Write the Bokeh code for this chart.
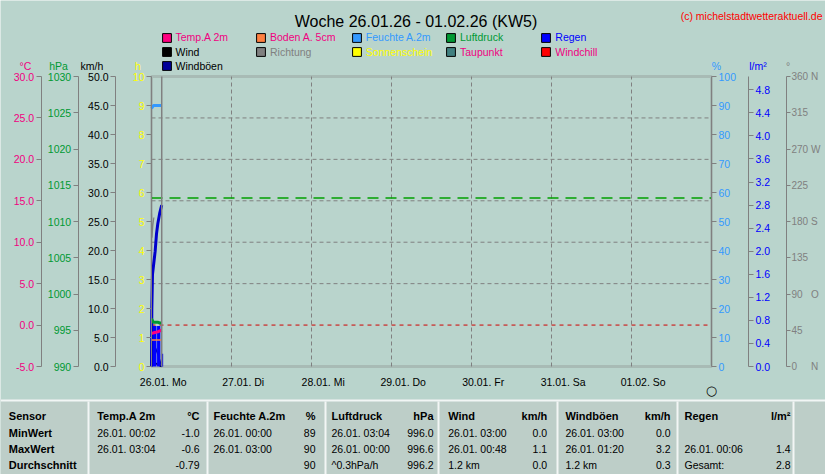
from bokeh.plotting import figure
from bokeh.models import (Range1d, LinearAxis, FixedTicker, PrintfTickFormatter,
                          Label, Legend, LegendItem, BoxAnnotation)
from bokeh.embed import file_html
from bokeh.resources import INLINE
from bokeh.core.properties import value

FONT = "Liberation Sans"
BG = "#B9D4CC"
TABLE_BG = "#BDCEC8"
GRAY = "#808080"
PINK = "#F00080"
GREEN = "#009933"
YELLOW = "#FFFF00"
LBLUE = "#3399FF"
BLUE = "#0000FF"
NAVY = "#000099"
NAN = float("nan")

# ---------------- data ----------------
title_text = "Woche 26.01.26 - 01.02.26 (KW5)"
copyright_text = "(c) michelstadtwetteraktuell.de"

day_labels = ["26.01. Mo", "27.01. Di", "28.01. Mi", "29.01. Do", "30.01. Fr", "31.01. Sa", "01.02. So"]
day_start_h = [0, 24, 48, 72, 96, 120, 144]
week_end_h = 168
now_h = 3.067

temp_t = [0.03, 0.5, 1.0, 1.5, 2.0, 2.5, 3.067]
temp_c = [-1.0, -0.95, -0.9, -0.85, -0.8, -0.7, -0.6]

soil_t = [0.0, 1.0, 2.0, 2.9]
soil_c = [-1.8, -1.8, -1.8, -1.8]

hum_t = [0.0, 0.3, 0.6, 1.0, 2.0, 3.0, 3.067]
hum_pct = [89, 89.5, 90, 90, 90, 90, 90]

press_t = [0.0, 0.3, 0.6, 1.0, 1.5, 2.0, 2.5, 3.067]
press_hpa = [996.6, 996.3, 996.1, 996.1, 996.1, 996.1, 996.0, 996.0]

rain_sum_t = [0.0, 0.1, 0.3, 0.7, 1.1, 1.5, 1.9, 2.5, 3.067]
rain_sum_mm = [0.0, 1.0, 1.6, 1.8, 2.0, 2.3, 2.48, 2.67, 2.8]

rain_rate_t = [0.0, 0.1667, 0.3333, 0.5, 0.6667, 0.8333, 1.0, 1.1667, 1.3333, 1.5,
               1.6667, 1.8333, 2.0, 2.1667, 2.3333, 2.5, 2.6667, 2.8333, 3.5]
rain_rate = [1.4, 1.4, 1.4, 1.4, 1.4, 1.4, 1.4, 1.4, 1.4, 0.0,
             1.4, 1.4, 1.4, 1.4, 1.4, 1.4, 0.0, 0.44, 0.44]

dir_t = [0.0, 0.15, 0.4, 0.7]
dir_deg = [190, 160, 175, 185]

wind_t = [0.0, 0.5, 0.8, 1.2, 2.0, 3.0]
wind_kmh = [0.4, 0.8, 1.1, 0.6, 0.3, 0.0]
gust_kmh = [1.5, 2.5, 2.8, 3.2, 2.0, 0.0]

# axis ticks / labels
tc_ticks = [-5, 0, 5, 10, 15, 20, 25, 30]
hpa_ticks = [990, 995, 1000, 1005, 1010, 1015, 1020, 1025, 1030]
kmh_ticks = [0, 5, 10, 15, 20, 25, 30, 35, 40, 45, 50]
h_ticks = [0, 1, 2, 3, 4, 5, 6, 7, 8, 9, 10]
pct_ticks = [0, 10, 20, 30, 40, 50, 60, 70, 80, 90, 100]
lm2_ticks = [0.0, 0.4, 0.8, 1.2, 1.6, 2.0, 2.4, 2.8, 3.2, 3.6, 4.0, 4.4, 4.8]
deg_ticks = [0, 45, 90, 135, 180, 225, 270, 315, 360]
NB = "\u00a0"
deg_labels = ["0" + NB * 5 + "N", "45", "90" + NB * 3 + "O", "135", "180" + NB + "S",
              "225", "270" + NB + "W", "315", "360" + NB + "N"]
grid_tc = [5, 10, 15, 20, 25]
freeze_c = [0]
std_press = [1013.25]

legend_names = [["Temp.A 2m", "Boden A. 5cm", "Feuchte A.2m", "Luftdruck", "Regen"],
                ["Wind", "Richtung", "Sonnenschein", "Taupunkt", "Windchill"],
                ["Windböen"]]
legend_swatch = [["#FF0080", "#FF8040", LBLUE, GREEN, BLUE],
                 ["#000000", GRAY, YELLOW, "#408080", "#FF0000"],
                 [NAVY]]
legend_text_col = [[PINK, PINK, LBLUE, GREEN, BLUE],
                   ["#000000", GRAY, YELLOW, PINK, PINK],
                   ["#000000"]]

unit_texts = ["°C", "hPa", "km/h", "h", "%", "l/m²", "°"]
unit_colors = [PINK, GREEN, "#000000", YELLOW, LBLUE, BLUE, GRAY]

# table
row_labels = ["Sensor", "MinWert", "MaxWert", "Durchschnitt"]
tab_headers = ["Temp.A 2m", "Feuchte A.2m", "Luftdruck", "Wind", "Windböen", "Regen"]
tab_units = ["°C", "%", "hPa", "km/h", "km/h", "l/m²"]
min_when = ["26.01.  00:02", "26.01.  00:00", "26.01.  03:04", "26.01.  03:00", "26.01.  03:00", ""]
min_val = ["-1.0", "89", "996.0", "0.0", "0.0", ""]
max_when = ["26.01.  03:04", "26.01.  03:00", "26.01.  00:00", "26.01.  00:48", "26.01.  01:20", "26.01.  00:06"]
max_val = ["-0.6", "90", "996.6", "1.1", "3.2", "1.4"]
avg_note = ["", "", "^0.3hPa/h", "1.2 km", "1.2 km", "Gesamt:"]
avg_val = ["-0.79", "90", "996.2", "0.0", "0.3", "2.8"]

# ---------------- layout (canvas pixels, from top-left) ----------------
W, H = 825, 474
CH_L, CH_R, CH_T, CH_B = 151, 711, 76, 366


def lin_range(v_lo, v_hi, px_lo, px_hi, total):
    s = (v_hi - v_lo) / (px_hi - px_lo)
    return Range1d(v_lo - px_lo * s, v_lo + (total - px_lo) * s)


def yr(v_lo, v_hi):
    return lin_range(v_lo, v_hi, H - CH_B, H - CH_T, H)


PX_PER_H = (CH_R - CH_L) / week_end_h


def hx(cx):
    return (cx - CH_L) / PX_PER_H


p = figure(width=W, height=H, x_range=lin_range(0, week_end_h, CH_L, CH_R, W), y_range=yr(0, 10),
           x_axis_location=None, y_axis_location=None,
           toolbar_location=None, output_backend="svg", min_border=0,
           background_fill_color=BG, border_fill_color=BG, outline_line_color=None)
p.xgrid.visible = False
p.ygrid.visible = False
p.extra_y_ranges = {"tc": yr(-5, 30), "hpa": yr(990, 1030), "kmh": yr(0, 50),
                    "pct": yr(0, 100), "lm2": yr(0, 5.03), "deg": yr(0, 360),
                    "py": Range1d(H, 0)}
p.extra_x_ranges = {"px": Range1d(0, W)}


def make_axis(rname, loc_px, side, color, ticks, bounds, fmt=None, size="10.5px", tick_out=5, standoff=2):
    kw = {} if rname is None else {"y_range_name": rname}
    ax = LinearAxis(fixed_location=hx(loc_px), bounds=bounds, **kw)
    ax.ticker = FixedTicker(ticks=ticks)
    if fmt:
        ax.formatter = PrintfTickFormatter(format=fmt)
    ax.axis_line_color = GRAY
    ax.major_tick_line_color = GRAY
    ax.minor_tick_line_color = None
    ax.major_tick_out = tick_out
    ax.major_tick_in = 0
    ax.major_label_standoff = standoff
    ax.major_label_text_color = color
    ax.major_label_text_font = FONT
    ax.major_label_text_font_size = size
    p.add_layout(ax, side)
    return ax


# chart frame + table background
p.add_layout(BoxAnnotation(left=0, right=week_end_h, bottom=0, top=10, fill_color=None,
                           line_color=GRAY, line_width=3, level="underlay"))
p.add_layout(BoxAnnotation(left=0, right=W, top=399, bottom=H, x_range_name="px", y_range_name="py",
                           fill_color=TABLE_BG, fill_alpha=1, line_color=None, level="underlay"))

make_axis(None, CH_L, "left", YELLOW, h_ticks, (0, 10))
make_axis("kmh", 115, "left", "#000000", kmh_ticks, (0, 50), "%.1f")
make_axis("hpa", 77.7, "left", GREEN, hpa_ticks, (990, 1030))
make_axis("tc", 40.7, "left", PINK, tc_ticks, (-5, 30), "%.1f")
make_axis("pct", CH_R, "right", LBLUE, pct_ticks, (0, 100))
make_axis("lm2", 748, "right", BLUE, lm2_ticks, (0, 5.03), "%.1f")
ax_deg = make_axis("deg", 786, "right", GRAY, deg_ticks, (0, 360), size="10px", tick_out=4, standoff=1)
ax_deg.major_label_overrides = {t: s for t, s in zip(deg_ticks, deg_labels)}

label_ticks = [d + 3.5 for d in day_start_h]
xa = LinearAxis(fixed_location=0, bounds=(0, week_end_h))
xa.ticker = FixedTicker(ticks=label_ticks)
xa.major_label_overrides = {t: s for t, s in zip(label_ticks, day_labels)}
xa.major_tick_out = 0
xa.major_tick_in = 0
xa.minor_tick_line_color = None
xa.axis_line_color = None
xa.major_label_standoff = 9
xa.major_label_text_font = FONT
xa.major_label_text_font_size = "10.5px"
xa.major_label_text_color = "#000000"
p.add_layout(xa, "below")

# grid lines
n_v = len(day_start_h) - 1
p.segment(x0=day_start_h[1:], x1=day_start_h[1:], y0=[0] * n_v, y1=[10] * n_v,
          line_color=GRAY, line_dash="4 3", line_width=1)
p.segment(x0=[0] * len(grid_tc), x1=[week_end_h] * len(grid_tc), y0=grid_tc, y1=grid_tc,
          y_range_name="tc", line_color=GRAY, line_dash="4 3", line_width=1)
p.segment(x0=[0], x1=[week_end_h], y0=freeze_c, y1=freeze_c, y_range_name="tc",
          line_color="#D00000", line_dash="4 4", line_width=1)
p.segment(x0=[0], x1=[week_end_h], y0=std_press, y1=std_press, y_range_name="hpa",
          line_color="#00A000", line_dash="11 7", line_width=1.5)

# data series
p.line(wind_t, wind_kmh, y_range_name="kmh", line_color="#000000", line_width=1.5)
p.line(wind_t, gust_kmh, y_range_name="kmh", line_color=NAVY, line_width=1.5)
p.varea_step(x=rain_rate_t, y1=0, y2=rain_rate, step_mode="after", fill_color=BLUE)
p.line(dir_t, dir_deg, y_range_name="deg", line_color=GRAY, line_width=1.2)
p.line(rain_sum_t, rain_sum_mm, y_range_name="lm2", line_color="#0000CC", line_width=3)
p.line(hum_t, hum_pct, y_range_name="pct", line_color=LBLUE, line_width=3)
p.line(press_t, press_hpa, y_range_name="hpa", line_color=GREEN, line_width=3)
p.line(temp_t, temp_c, y_range_name="tc", line_color="#FF0080", line_width=3)
p.line(soil_t, soil_c, y_range_name="tc", line_color="#FF8040", line_width=1.5)
p.segment(x0=[now_h], x1=[now_h], y0=[0], y1=[10], line_color=GRAY, line_width=1.5)

# legends (bottom-left corner in canvas px)
leg_cols_x = [160.5, 255.0, 350.8, 445.0, 540.3]
leg_rows_bottom = [43.0, 57.5, 71.5]
for r, (names, sw, tcol) in enumerate(zip(legend_names, legend_swatch, legend_text_col)):
    for c, (nm, s, col) in enumerate(zip(names, sw, tcol)):
        rr = p.vbar(x=[NAN], top=[NAN], width=1, fill_color=s, line_color="#000000", line_width=1)
        lg = Legend(items=[LegendItem(label=nm, renderers=[rr])],
                    location=(leg_cols_x[c], H - leg_rows_bottom[r]),
                    padding=0, margin=0, spacing=0,
                    glyph_width=11, glyph_height=11, label_height=11, label_width=10,
                    label_standoff=4, label_text_font=FONT, label_text_font_size="10.5px",
                    label_text_color=col, background_fill_alpha=0, border_line_color=None)
        p.add_layout(lg)


def add_label(cx, cy, text, color, size, align="center", baseline="alphabetic", font=FONT):
    p.add_layout(Label(x=cx, y=H - cy, x_units="screen", y_units="screen", text=text,
                       text_align=align, text_baseline=baseline, text_font=font,
                       text_font_size=size, text_color=color))


add_label(415.5, 20.7, title_text, "#000000", "16px")
add_label(822, 15.0, copyright_text, "#FF0000", "10.5px", align="right")
unit_x = [25, 58, 91.5, 137.5, 716, 757.5, 787.5]
for ux, ut, uc in zip(unit_x, unit_texts, unit_colors):
    add_label(ux, 65, ut, uc, "10.5px")
add_label(711, 390, "○", "#000000", "13px", baseline="middle", font="DejaVu Sans")

# ---------------- table ----------------
sep_x = [88, 207, 325, 438, 557, 677, 793]
col_left = [96.7, 213, 331, 447.7, 565, 684]
col_right = [199, 315, 433, 546.7, 670, 790]
row_y = [415.7, 432.3, 448.3, 464.3]

p.segment(x0=[0], y0=[400], x1=[W], y1=[400], x_range_name="px", y_range_name="py",
          line_color="#F2F6F5", line_width=2)
p.segment(x0=sep_x, y0=[401] * len(sep_x), x1=sep_x, y1=[H] * len(sep_x),
          x_range_name="px", y_range_name="py", line_color="#F2F6F5", line_width=2)

bx, by, bt, ba = [], [], [], []
for yy, lab in zip(row_y, row_labels):
    bx.append(8.3); by.append(yy); bt.append(lab); ba.append("left")
for i in range(6):
    bx.append(col_left[i]); by.append(row_y[0]); bt.append(tab_headers[i]); ba.append("left")
    bx.append(col_right[i]); by.append(row_y[0]); bt.append(tab_units[i]); ba.append("right")
p.text(x=bx, y=by, text=bt, text_align=ba, text_baseline="middle", text_font=value(FONT),
       text_font_size="11px", text_font_style="bold", text_color="#000000",
       x_range_name="px", y_range_name="py")

rx, ry, rt, ra = [], [], [], []
for i in range(6):
    for yy, left_txt, right_txt in zip(row_y[1:], [min_when[i], max_when[i], avg_note[i]],
                                       [min_val[i], max_val[i], avg_val[i]]):
        rx.append(col_left[i]); ry.append(yy); rt.append(left_txt); ra.append("left")
        rx.append(col_right[i]); ry.append(yy); rt.append(right_txt); ra.append("right")
p.text(x=rx, y=ry, text=rt, text_align=ra, text_baseline="middle", text_font=value(FONT),
       text_font_size="10.5px", text_color="#000000", x_range_name="px", y_range_name="py")

open("out.html", "w").write(file_html(p, INLINE))
